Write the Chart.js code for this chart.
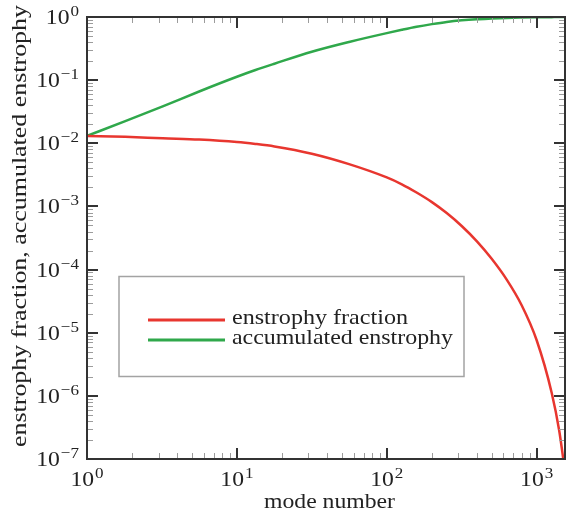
<!DOCTYPE html>
<html>
<head>
<meta charset="utf-8">
<script src="https://cdn.jsdelivr.net/npm/chart.js@4.4.1/dist/chart.umd.min.js"></script>
<style>
  html, body { margin: 0; padding: 0; background: #fff; }
  #wrap { width: 566px; height: 510px; position: relative; }
</style>
</head>
<body>
<div id="wrap"><canvas id="chart" width="566" height="510"></canvas></div>
<script>
// values
const modes = [1, 1.8, 3.2, 5.6, 10, 13.3, 17.8, 31.6, 56, 100, 126, 158, 200, 251, 316, 398, 501, 631, 794, 1000, 1259, 1413, 1545];
const enstrophyFraction = [0.0131, 0.01268, 0.01202, 0.01148, 0.0105, 0.00977, 0.00891, 0.00684, 0.00468, 0.00288, 0.00224, 0.00166, 0.00117, 0.000785, 0.00049, 0.000282, 0.000148, 0.0000692, 0.0000272, 0.00000759, 0.00000112, 0.000000282, 0.000000063];
const accumulatedEnstrophy = [0.0131, 0.02244, 0.03846, 0.0661, 0.113, 0.1445, 0.182, 0.282, 0.403, 0.556, 0.627, 0.700, 0.771, 0.836, 0.887, 0.923, 0.946, 0.966, 0.979, 0.989, 0.995, 0.998, 1.0];
const seriesLabels = ["enstrophy fraction", "accumulated enstrophy"];
const seriesColors = ["#e8362f", "#2fa84b"];
const xDecades = [0, 1, 2, 3];
const yDecades = [-7, -6, -5, -4, -3, -2, -1, 0];

const FONT = '"Liberation Serif", "Times New Roman", serif';

function toPoints(ys) {
  return modes.map((m, i) => ({ x: m, y: ys[i] }));
}

// draw text with a horizontal stretch (Computer Modern is wider than Times)
function stretchText(ctx, text, x, y, size, sx) {
  ctx.save();
  ctx.font = size + "px " + FONT;
  ctx.translate(x, y);
  ctx.scale(sx, 1);
  ctx.textAlign = "left";
  ctx.textBaseline = "alphabetic";
  ctx.fillText(text, 0, 0);
  ctx.restore();
}

function fitText(ctx, text, x, y, size, width) {
  ctx.save();
  ctx.font = size + "px " + FONT;
  const sx = width / ctx.measureText(text).width;
  ctx.translate(x, y);
  ctx.scale(sx, 1);
  ctx.textAlign = "left";
  ctx.textBaseline = "alphabetic";
  ctx.fillText(text, 0, 0);
  ctx.restore();
}

function powLabel(ctx, exp, x, y, align) {
  const sx = 1.1;
  const base = "10";
  const sup = exp < 0 ? "\u2212" + (-exp) : String(exp);
  ctx.save();
  ctx.font = "21.5px " + FONT;
  const wb = ctx.measureText(base).width * sx;
  ctx.font = "15.5px " + FONT;
  const ws = ctx.measureText(sup).width * sx;
  ctx.restore();
  const total = wb + 1 + ws;
  let x0 = x;
  if (align === "center") x0 = x - total / 2;
  if (align === "right") x0 = x - total;
  stretchText(ctx, base, x0, y, 21.5, sx);
  stretchText(ctx, sup, x0 + wb + 1, y - 8, 15.5, sx);
}

const overlay = {
  id: "overlay",
  afterDraw(chart) {
    const ctx = chart.ctx;
    const a = chart.chartArea;
    const xs = chart.scales.x;
    const ys = chart.scales.y;
    ctx.save();

    // minor ticks
    ctx.strokeStyle = "#9c9c9c";
    ctx.lineWidth = 1;
    ctx.beginPath();
    xDecades.forEach((d) => {
      for (let m = 2; m <= 9; m++) {
        const v = m * Math.pow(10, d);
        if (v > xs.max) continue;
        const px = Math.round(xs.getPixelForValue(v)) + 0.5;
        ctx.moveTo(px, a.bottom); ctx.lineTo(px, a.bottom - 6);
        ctx.moveTo(px, a.top); ctx.lineTo(px, a.top + 6);
      }
    });
    yDecades.forEach((d) => {
      if (d >= 0) return;
      for (let m = 2; m <= 9; m++) {
        const py = Math.round(ys.getPixelForValue(m * Math.pow(10, d))) + 0.5;
        ctx.moveTo(a.left, py); ctx.lineTo(a.left + 6, py);
        ctx.moveTo(a.right, py); ctx.lineTo(a.right - 6, py);
      }
    });
    ctx.stroke();

    // major ticks
    ctx.strokeStyle = "#333";
    ctx.lineWidth = 2;
    ctx.beginPath();
    xDecades.forEach((d) => {
      const px = Math.round(xs.getPixelForValue(Math.pow(10, d)));
      ctx.moveTo(px, a.bottom); ctx.lineTo(px, a.bottom - 11);
      ctx.moveTo(px, a.top); ctx.lineTo(px, a.top + 11);
    });
    yDecades.forEach((d) => {
      const py = Math.round(ys.getPixelForValue(Math.pow(10, d)));
      ctx.moveTo(a.left, py); ctx.lineTo(a.left + 11, py);
      ctx.moveTo(a.right, py); ctx.lineTo(a.right - 11, py);
    });
    ctx.stroke();

    // frame
    ctx.lineWidth = 2;
    ctx.strokeRect(a.left, a.top, a.right - a.left, a.bottom - a.top);

    // tick labels
    ctx.fillStyle = "#222";
    xDecades.forEach((d) => {
      powLabel(ctx, d, xs.getPixelForValue(Math.pow(10, d)), 486, "center");
    });
    yDecades.forEach((d) => {
      powLabel(ctx, d, 79, ys.getPixelForValue(Math.pow(10, d)) + 7, "right");
    });

    // axis titles
    fitText(ctx, "mode number", 264, 508, 21.5, 131);
    ctx.save();
    ctx.translate(26, 447);
    ctx.rotate(-Math.PI / 2);
    fitText(ctx, "enstrophy fraction, accumulated enstrophy", 0, 0, 21.5, 442);
    ctx.restore();

    // legend
    ctx.fillStyle = "#fff";
    ctx.fillRect(119, 276.5, 345, 100);
    ctx.strokeStyle = "#a3a3a3";
    ctx.lineWidth = 1.5;
    ctx.strokeRect(119, 276.5, 345, 100);
    const rowY = [320, 340];
    const textW = [176, 221];
    chart.data.datasets.forEach((ds, i) => {
      ctx.strokeStyle = ds.borderColor;
      ctx.lineWidth = 3;
      ctx.beginPath();
      ctx.moveTo(148, rowY[i]);
      ctx.lineTo(225, rowY[i]);
      ctx.stroke();
      ctx.fillStyle = "#222";
      fitText(ctx, ds.label, 232, rowY[i] + 3.5, 21.5, textW[i]);
    });

    ctx.restore();
  }
};

document.addEventListener("DOMContentLoaded", function () {
  const ctx = document.getElementById("chart").getContext("2d");
  new Chart(ctx, {
    type: "line",
    data: {
      datasets: [
        {
          label: seriesLabels[0],
          data: toPoints(enstrophyFraction),
          borderColor: seriesColors[0],
          borderWidth: 2.5,
          pointRadius: 0,
          cubicInterpolationMode: "monotone",
          fill: false,
        },
        {
          label: seriesLabels[1],
          data: toPoints(accumulatedEnstrophy),
          borderColor: seriesColors[1],
          borderWidth: 2.5,
          pointRadius: 0,
          cubicInterpolationMode: "monotone",
          fill: false,
        },
      ],
    },
    options: {
      responsive: false,
      animation: false,
      layout: { padding: { left: 87, right: 1, top: 17, bottom: 51 } },
      plugins: {
        legend: { display: false },
        tooltip: { enabled: false },
      },
      scales: {
        x: { type: "logarithmic", min: 1, max: 1545, display: false },
        y: { type: "logarithmic", min: 1e-7, max: 1, display: false },
      },
    },
    plugins: [overlay],
  });
});
</script>
</body>
</html>
